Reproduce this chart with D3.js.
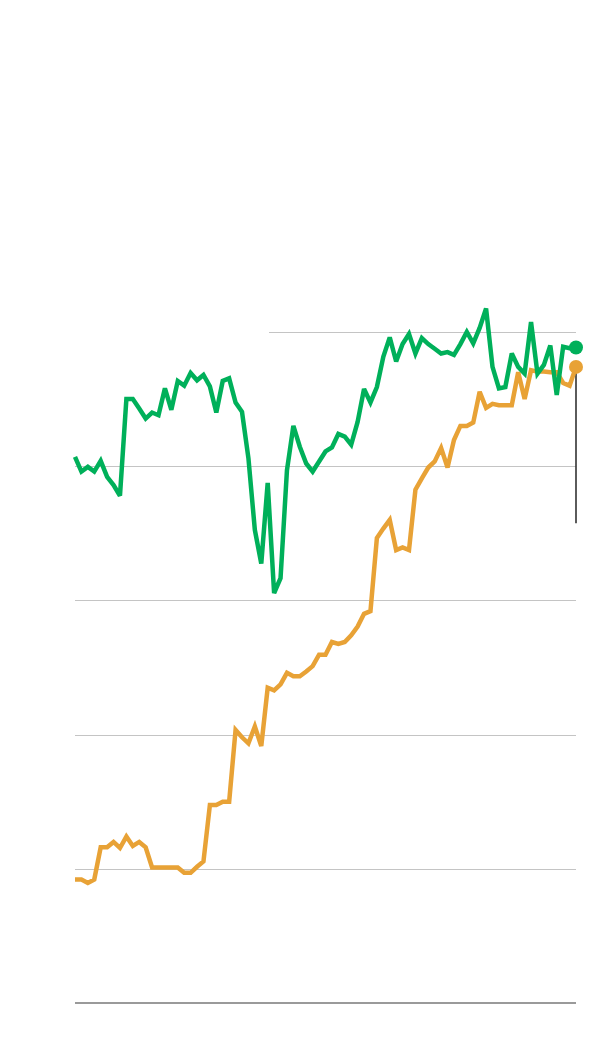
<!DOCTYPE html>
<html>
<head>
<meta charset="utf-8">
<script src="https://cdn.jsdelivr.net/npm/d3@7"></script>
<style>
  html, body { margin: 0; padding: 0; background: #fff; }
  svg { display: block; }
</style>
</head>
<body>
<svg id="chart" width="608" height="1064"></svg>
<script>
// ---- data ----
const greenValues = [81.4,79.2,79.9,79.2,80.8,78.4,77.2,75.6,90.0,90.0,
  88.6,87.1,88.0,87.6,91.6,88.4,92.7,92.0,93.9,92.8,
  93.6,91.9,88.0,92.7,93.1,89.5,88.1,81.2,70.5,65.5,
  77.5,61.1,63.3,79.4,86.0,82.9,80.4,79.2,80.7,82.2,
  82.8,84.8,84.4,83.2,86.6,91.5,89.5,91.8,96.3,99.2,
  95.6,98.2,99.7,96.8,99.1,98.2,97.5,96.8,97.0,96.6,
  98.2,100.0,98.3,100.6,103.5,94.8,91.6,91.8,96.8,94.8,
  93.8,101.5,93.8,95.1,98.0,90.6,97.8,97.6,97.7];
const orangeValues = [18.4,18.4,17.9,18.4,23.2,23.2,24.0,23.1,24.8,23.4,
  24.0,23.2,20.2,20.2,20.2,20.2,20.2,19.4,19.4,20.3,
  21.1,29.5,29.5,30.0,30.0,40.7,39.6,38.7,41.2,38.3,
  47.0,46.6,47.5,49.2,48.7,48.7,49.4,50.2,51.9,51.9,
  53.8,53.5,53.8,54.8,56.1,58.0,58.4,69.3,70.7,72.0,
  67.5,67.9,67.5,76.5,78.2,79.8,80.7,82.7,79.8,83.9,
  86.0,86.0,86.5,91.1,88.7,89.3,89.1,89.1,89.1,94.0,
  90.0,94.3,94.1,94.1,94.0,94.0,92.4,92.0,94.8];
const periods = greenValues.map((_, i) => i);
const gridTicks = [20, 40, 60, 80, 100];
const baselineValue = 0;
const annotationEnd = 71.5;

// ---- layout ----
const svg = d3.select("#chart");
const x = d3.scaleLinear().domain([0, periods.length - 1]).range([75, 576]);
const y = d3.scaleLinear().domain([0, 100]).range([1003, 332]);

// gridlines
svg.append("g").selectAll("line").data(gridTicks).join("line")
  .attr("x1", d => d === 100 ? 269 : x(0))
  .attr("x2", x(periods.length - 1))
  .attr("y1", d => Math.round(y(d)) + 0.5)
  .attr("y2", d => Math.round(y(d)) + 0.5)
  .attr("stroke", "#c4c4c4")
  .attr("stroke-width", 1);

// baseline
svg.append("line")
  .attr("x1", x(0)).attr("x2", x(periods.length - 1))
  .attr("y1", y(baselineValue)).attr("y2", y(baselineValue))
  .attr("stroke", "#9a9a9a").attr("stroke-width", 2);

// annotation line
const last = periods.length - 1;
svg.append("line")
  .attr("x1", x(last)).attr("x2", x(last))
  .attr("y1", y(orangeValues[last])).attr("y2", y(annotationEnd))
  .attr("stroke", "#333").attr("stroke-width", 1.6);

const line = d3.line().x((d, i) => x(periods[i])).y(d => y(d));

const series = [
  { values: orangeValues, color: "#e8a236" },
  { values: greenValues, color: "#00b05a" }
];

series.forEach(s => {
  svg.append("path")
    .datum(s.values)
    .attr("d", line)
    .attr("fill", "none")
    .attr("stroke", s.color)
    .attr("stroke-width", 4.5)
    .attr("stroke-linejoin", "miter")
    .attr("stroke-miterlimit", 3);
});

series.slice().reverse().forEach(s => {
  svg.append("circle")
    .attr("cx", x(last))
    .attr("cy", y(s.values[last]))
    .attr("r", 7)
    .attr("fill", s.color);
});
</script>
</body>
</html>
